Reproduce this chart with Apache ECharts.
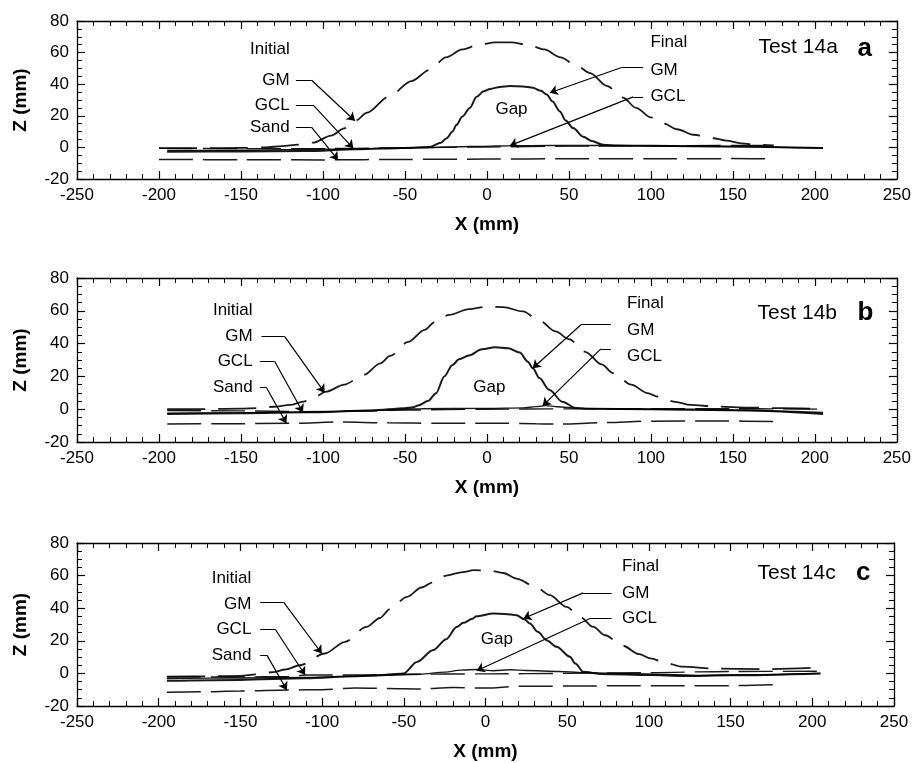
<!DOCTYPE html>
<html>
<head>
<meta charset="utf-8">
<title>Test 14 – GM / GCL / Sand profiles</title>
<script src="https://cdn.jsdelivr.net/npm/echarts@6/dist/echarts.min.js"></script>
<style>
  html, body { margin: 0; padding: 0; background: #ffffff; }
  #chart { width: 914px; height: 763px; }
</style>
</head>
<body>
<div id="chart"></div>
<script>
// ---- axis ticks -------------------------------------------------------
const xTickValues = [-250, -200, -150, -100, -50, 0, 50, 100, 150, 200, 250];
const yTickValues = [-20, 0, 20, 40, 60, 80];

// ---- Test 14a (x mm, z mm) --------------------------------------------
const a_initialGM = [[-200,-0.5],[-175,-0.5],[-150,-0.3],[-135,0],[-125,0.8],[-115,1.8],[-106,3],[-95,7.5],[-87,12],[-80,17],[-73,22],[-60,32],[-46,42],[-35,49],[-25,57],[-15,62],[-5,65],[5,66.5],[15,66.5],[25,65],[35,62],[45,57],[55,51.5],[63,47],[73,39],[83,31.5],[91,25],[100,19],[108,15],[116,11.5],[126,8],[138,5.8],[146,4.3],[155,2.6],[165,1.6],[175,1.2]];
const a_initialGCL = [[-200,-0.6],[-150,-0.8],[-100,-0.8],[-80,-0.6],[-50,-0.2],[0,0.3],[50,0.8],[100,1],[140,1.2],[175,1.3]];
const a_initialSand = [[-200,-7.6],[-150,-7.8],[-100,-7.9],[-50,-7.6],[0,-7.4],[50,-7.2],[100,-7.2],[150,-7.1],[175,-7.2]];
const a_finalGM = [[-195,-2.8],[-150,-2.6],[-110,-2.3],[-80,-1.2],[-60,-0.6],[-45,-0.2],[-35,0.3],[-28,3],[-24.6,5.8],[-21,10],[-18.5,14.3],[-15,19.5],[-10.4,25],[-6.3,32],[-2,35.5],[2,37],[8,38.3],[14,38.8],[22,38.6],[28,37.8],[33,35.8],[36.5,33.5],[40,29],[44.5,22.8],[48,17],[52.6,12.2],[58.7,6.8],[64,4],[71,1.6],[80,1.2],[100,1],[150,0.6],[205,-0.4]];
const a_finalGCL = [[-195,-2],[-150,-1.8],[-100,-1.2],[-70,-0.8],[-40,-0.2],[-10,0.6],[14,1],[40,1.2],[70,1.2],[100,1],[150,0.5],[205,-0.6]];

// ---- Test 14b ---------------------------------------------------------
const b_initialGM = [[-195,0],[-170,0.1],[-150,0.3],[-140,0.7],[-130,1.5],[-120,2.6],[-112,4.6],[-105,7.5],[-98,10.7],[-87,15],[-75,21],[-65,28],[-59,32.5],[-48,41],[-38,48.4],[-32,53],[-23,57.5],[-11,61],[0,62.5],[10,62.3],[22,59.6],[32,54],[42,47.4],[50,42.7],[60,35],[70,27.3],[77,22],[88,15],[98,9.8],[104,7.7],[115,4.5],[124,2.6],[140,1.6],[160,1],[180,0.6],[205,0.2]];
const b_initialGCL = [[-195,-0.8],[-150,-1],[-113,-1.5],[-80,-1.2],[-50,-0.5],[0,0],[50,0.2],[100,0.3],[150,0.3],[180,0.2],[205,0]];
const b_initialSand = [[-195,-9],[-160,-8.9],[-120,-8.6],[-90,-7.8],[-60,-8.3],[-30,-8.6],[0,-8.5],[30,-8.8],[45,-9.1],[70,-8.2],[100,-7.3],[140,-7.2],[179,-7.5]];
const b_finalGM = [[-195,-2.9],[-150,-2.5],[-110,-1.9],[-70,-0.8],[-50,0.6],[-45,1.2],[-42,2.2],[-36,5],[-31,9.8],[-26,20],[-21,27],[-17,30.5],[-11,32.8],[-3,36.5],[5,37.8],[13,37.2],[20,34.5],[25,29],[28,25],[32,19],[38,11.8],[46,4.6],[54,0.8],[60,0.3],[100,0],[150,-0.5],[205,-2.9]];
const b_finalGCL = [[-195,-2.5],[-150,-2.2],[-110,-1.8],[-70,-0.8],[-40,0.3],[0,0.5],[22,0.8],[30,1.6],[36,2.2],[43,1.5],[55,0.5],[100,0],[150,-0.8],[205,-2]];

// ---- Test 14c ---------------------------------------------------------
const c_initialGM = [[-195,-2],[-170,-1.8],[-150,-1.5],[-140,-0.6],[-130,0.8],[-122.6,2.4],[-113.6,5],[-98.3,12.2],[-86,19.4],[-72.8,28.5],[-64.6,34],[-58.5,39.5],[-48,47],[-39.2,52.7],[-32,56],[-24,60],[-15,62],[-7,63.3],[2,63.2],[11,61.6],[19,58.2],[30,53.5],[39.4,48],[49.6,40.8],[58,34.5],[66,28.5],[73.2,23.4],[84,17],[94,11.8],[101,9.2],[110,6.5],[120.5,4.1],[140,3],[170,2.6],[205,3.6]];
const c_initialGCL = [[-195,-2.3],[-150,-2.2],[-120,-2],[-110,-1],[-80,-1],[-50,-0.5],[0,-0.3],[50,0],[100,0.5],[150,1.2],[205,1.3]];
const c_initialSand = [[-195,-11.5],[-175,-11.3],[-150,-10.8],[-120,-10.2],[-100,-10],[-80,-9],[-60,-9.2],[-40,-9.5],[-20,-8.7],[0,-9],[20,-7.9],[50,-7.8],[80,-7.6],[110,-7.6],[150,-7.5],[179,-6.8]];
const c_finalGM = [[-195,-4.5],[-150,-4],[-110,-3],[-80,-1.8],[-60,-0.8],[-50,0],[-42,7],[-32,14.3],[-24,21],[-17.7,28.5],[-13.6,31],[-8,33.5],[-5.5,35],[4.7,36.7],[12,36.5],[19,35.7],[24,33],[27.2,30.6],[32,25.5],[37.4,20.4],[43.5,16.3],[51.7,10.2],[55,6],[59.9,1],[70,-0.3],[100.6,-1],[121,-1.6],[150,-1.2],[205,0]];
const c_finalGCL = [[-195,-3.2],[-150,-2.8],[-110,-2.5],[-70,-1.5],[-40,-0.5],[-25,0.8],[-15,2],[-5,2.4],[5,1.6],[15,2.2],[25,1.8],[45,1.2],[60,0.5],[90,-0.2],[130,-1.2],[160,-0.8],[205,0]];

// ---- annotation texts: [text, x, z, anchor, kind] and leader arrows ----
const a_texts = [
  ['Initial', -120, 62.3, 'right'], ['GM', -120, 42.5, 'right'], ['GCL', -120, 26.7, 'right'], ['Sand', -120, 12.6, 'right'],
  ['Final', 99.4, 66.2, 'left'], ['GM', 99.4, 49.1, 'left'], ['GCL', 99.4, 32.4, 'left'],
  ['Gap', 15, 23.9, 'center'], ['Test 14a', 189.8, 63.4, 'center', 'test'], ['a', 230.5, 62.3, 'center', 'tag']
];
const a_leaders = [
  [[-116.5,42.5],[-106.9,42.5],[-80.5,16.9]],
  [[-116.5,26.7],[-105.9,26.7],[-81.5,-0.6]],
  [[-116.5,12.6],[-106.9,12.6],[-90.7,-8.1]],
  [[95.3,50.6],[82.1,50.6],[38.4,34.6]],
  [[95.3,32],[89.2,32],[14,1.1]]
];
const b_texts = [
  ['Initial', -142.6, 60, 'right'], ['GM', -142.6, 44.3, 'right'], ['GCL', -142.6, 29.1, 'right'], ['Sand', -142.6, 13.2, 'right'],
  ['Final', 85.1, 64.7, 'left'], ['GM', 85.1, 48, 'left'], ['GCL', 85.1, 32.1, 'left'],
  ['Gap', 1.5, 13.2, 'center'], ['Test 14b', 189.3, 58.6, 'center', 'test'], ['b', 230.9, 58.6, 'center', 'tag']
];
const b_leaders = [
  [[-137.5,44.3],[-123.3,44.3],[-99,10.1]],
  [[-138.5,29.1],[-129.4,29.1],[-112.2,-2]],
  [[-138.5,13.2],[-134.5,13.2],[-122.3,-8.6]],
  [[75.6,51.5],[57.4,51.5],[27.9,25]],
  [[75.6,36.8],[69.5,36.8],[34,2]]
];
const c_texts = [
  ['Initial', -143, 58.2, 'right'], ['GM', -143, 42.3, 'right'], ['GCL', -143, 27.1, 'right'], ['Sand', -143, 10.8, 'right'],
  ['Final', 83.3, 65.7, 'left'], ['GM', 83.3, 49, 'left'], ['GCL', 83.3, 33.7, 'left'],
  ['Gap', 6.9, 20.8, 'center'], ['Test 14c', 190.4, 61.6, 'center', 'test'], ['c', 231.1, 61.6, 'center', 'tag']
];
const c_leaders = [
  [[-137.9,43.7],[-123.6,43.7],[-100.2,12.2]],
  [[-137.9,27.1],[-128.7,27.1],[-110.4,-1]],
  [[-137.9,11.2],[-133.8,11.2],[-121.6,-10.2]],
  [[77.2,49.4],[59.8,49.4],[23.2,33.7]],
  [[77.2,33.7],[64,33.7],[-5.4,1.6]]
];

const panels = [
  { grid: { left: 77, top: 21, width: 820, height: 158 },
    initialGM: a_initialGM, initialGCL: a_initialGCL, initialSand: a_initialSand,
    finalGM: a_finalGM, finalGCL: a_finalGCL, texts: a_texts, leaders: a_leaders },
  { grid: { left: 77, top: 278, width: 821, height: 164 },
    initialGM: b_initialGM, initialGCL: b_initialGCL, initialSand: b_initialSand,
    finalGM: b_finalGM, finalGCL: b_finalGCL, texts: b_texts, leaders: b_leaders },
  { grid: { left: 77, top: 543, width: 817, height: 163 },
    initialGM: c_initialGM, initialGCL: c_initialGCL, initialSand: c_initialSand,
    finalGM: c_finalGM, finalGCL: c_finalGCL, texts: c_texts, leaders: c_leaders }
];

const FONT = '"Liberation Sans", Arial, Helvetica, sans-serif';
const INK = '#000000';

const xMin = xTickValues[0], xMax = xTickValues[xTickValues.length - 1];
const yMin = yTickValues[0], yMax = yTickValues[yTickValues.length - 1];

function baseAxis(extra) {
  return Object.assign({
    type: 'value',
    axisLine: { show: true, onZero: false, lineStyle: { color: INK, width: 1.3 } },
    axisTick: { show: true, inside: true, length: 8, lineStyle: { color: INK, width: 1.2 } },
    minorTick: { show: true, length: 5, lineStyle: { color: INK, width: 1 } },
    splitLine: { show: false },
    minorSplitLine: { show: false },
    axisLabel: { show: true, fontSize: 17, color: INK, fontFamily: FONT },
    nameTextStyle: { fontSize: 19, fontWeight: 'bold', color: INK, fontFamily: FONT }
  }, extra);
}

const grids = [], xAxes = [], yAxes = [], series = [];

panels.forEach((p, k) => {
  grids.push(Object.assign({ containLabel: false }, p.grid));

  const xBottom = xAxes.length;
  xAxes.push(baseAxis({
    gridIndex: k, position: 'bottom', min: xMin, max: xMax, interval: 50,
    minorTick: { show: true, splitNumber: 5, length: 5, lineStyle: { color: INK, width: 1 } },
    axisLabel: { show: true, fontSize: 17, color: INK, fontFamily: FONT, margin: 8 },
    name: 'X (mm)', nameLocation: 'middle', nameGap: 36
  }));
  xAxes.push(baseAxis({
    gridIndex: k, position: 'top', min: xMin, max: xMax, interval: 50,
    minorTick: { show: true, splitNumber: 5, length: 5, lineStyle: { color: INK, width: 1 } },
    axisLabel: { show: false }
  }));

  const yLeft = yAxes.length;
  yAxes.push(baseAxis({
    gridIndex: k, position: 'left', min: yMin, max: yMax, interval: 20,
    minorTick: { show: true, splitNumber: 4, length: 5, lineStyle: { color: INK, width: 1 } },
    axisLabel: { show: true, fontSize: 17, color: INK, fontFamily: FONT, margin: 8 },
    name: 'Z (mm)', nameLocation: 'middle', nameGap: 47
  }));
  yAxes.push(baseAxis({
    gridIndex: k, position: 'right', min: yMin, max: yMax, interval: 20,
    minorTick: { show: true, splitNumber: 4, length: 5, lineStyle: { color: INK, width: 1 } },
    axisLabel: { show: false }
  }));

  const curve = (name, data, width, dash) => ({
    name, type: 'line', xAxisIndex: xBottom, yAxisIndex: yLeft,
    data, showSymbol: false, symbol: 'none', smooth: 0.3, smoothMonotone: 'x',
    silent: true, animation: false, z: 3,
    lineStyle: { color: INK, width, type: dash || 'solid', cap: 'butt', opacity: 0.9 }
  });

  series.push(curve('Initial Sand', p.initialSand, 1.5, [34, 10]));
  series.push(curve('Initial GCL', p.initialGCL, 1.4, [34, 10]));
  series.push(curve('Initial GM', p.initialGM, 1.8, [38, 13]));
  series.push(curve('Final GCL', p.finalGCL, 1.4));
  series.push(curve('Final GM', p.finalGM, 2));

  // leader stems (horizontal part next to the text)
  series.push({
    type: 'lines', coordinateSystem: 'cartesian2d', xAxisIndex: xBottom, yAxisIndex: yLeft,
    silent: true, animation: false, z: 5, symbol: 'none',
    lineStyle: { color: INK, width: 1.2, opacity: 1, curveness: 0 },
    data: p.leaders.map(c => ({ coords: [c[0], c[1]] }))
  });
  // leader arrows (diagonal part ending on the curve)
  series.push({
    type: 'lines', coordinateSystem: 'cartesian2d', xAxisIndex: xBottom, yAxisIndex: yLeft,
    silent: true, animation: false, z: 5,
    symbol: ['none', 'arrow'], symbolSize: 8,
    lineStyle: { color: INK, width: 1.2, opacity: 1, curveness: 0 },
    data: p.leaders.map(c => ({ coords: [c[1], c[2]] }))
  });

  // annotation texts
  series.push({
    type: 'scatter', xAxisIndex: xBottom, yAxisIndex: yLeft,
    symbolSize: 1, silent: true, animation: false, z: 6,
    itemStyle: { color: 'rgba(255,255,255,0)', opacity: 1 },
    data: p.texts.map(([txt, x, y, anchor, kind]) => ({
      value: [x, y],
      label: {
        show: true, formatter: txt, distance: 0, opacity: 1,
        position: anchor === 'right' ? 'left' : anchor === 'left' ? 'right' : 'inside',
        fontSize: kind === 'tag' ? 26 : kind === 'test' ? 21 : 17,
        fontWeight: kind === 'tag' ? 'bold' : 'normal',
        color: INK, fontFamily: FONT
      }
    }))
  });
});

const chart = echarts.init(document.getElementById('chart'), null, { renderer: 'canvas' });
chart.setOption({
  backgroundColor: '#ffffff',
  animation: false,
  textStyle: { fontFamily: FONT },
  grid: grids,
  xAxis: xAxes,
  yAxis: yAxes,
  series: series
});
</script>
</body>
</html>
